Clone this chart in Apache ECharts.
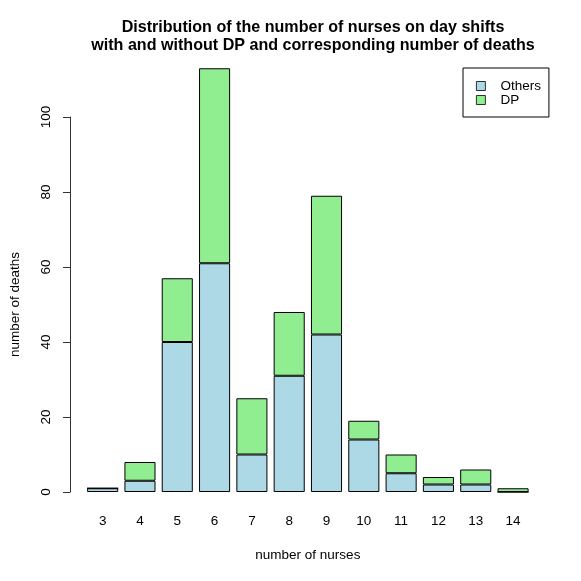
<!DOCTYPE html>
<html>
<head>
<meta charset="utf-8">
<script src="https://cdn.jsdelivr.net/npm/echarts@6/dist/echarts.min.js"></script>
<style>
html, body { margin: 0; padding: 0; background: #fff; }
#chart { width: 581px; height: 581px; }
</style>
</head>
<body>
<div id="chart"></div>
<script>
// number of nurses on day shift
const nurses = ['3', '4', '5', '6', '7', '8', '9', '10', '11', '12', '13', '14'];
// deaths on shifts without DP
const others = [1, 3, 40, 61, 10, 31, 42, 14, 5, 2, 2, 0];
// deaths on shifts with DP
const dp = [0, 5, 17, 52, 15, 17, 37, 5, 5, 2, 4, 1];
const yTicks = [0, 20, 40, 60, 80, 100];

const chart = echarts.init(document.getElementById('chart'));
const font = 'Liberation Sans';
const fs = 13.5;

chart.setOption({
	animation: false,
	backgroundColor: '#fff',
	title: {
		text: 'Distribution of the number of nurses on day shifts\nwith and without DP and corresponding number of deaths',
		left: 308,
		top: 14,
		textAlign: 'center',
		textStyle: {
			fontFamily: font,
			fontSize: 16.1,
			fontWeight: 'bold',
			lineHeight: 17.5,
			color: '#000'
		}
	},
	legend: {
		orient: 'vertical',
		left: 463,
		top: 68,
		padding: [11, 8, 10, 13],
		itemGap: 0,
		itemWidth: 9,
		itemHeight: 9,
		icon: 'rect',
		itemStyle: { borderColor: '#000', borderWidth: 0.8 },
		borderColor: '#000',
		borderWidth: 1,
		borderRadius: 0,
		textStyle: {
			fontFamily: font,
			fontSize: fs,
			color: '#000',
			lineHeight: 14,
			padding: [0, 0, 0, 10]
		},
		data: ['Others', 'DP']
	},
	grid: {
		left: 82.3,
		right: 49.3,
		top: 117,
		bottom: 89,
		containLabel: false
	},
	xAxis: {
		type: 'category',
		data: nurses,
		name: 'number of nurses',
		nameLocation: 'middle',
		nameGap: 56,
		nameTextStyle: { fontFamily: font, fontSize: fs, color: '#000' },
		axisLine: { show: false },
		axisTick: { show: false },
		axisLabel: { fontFamily: font, fontSize: fs, color: '#000', margin: 22 }
	},
	yAxis: {
		type: 'value',
		min: 0,
		max: 100,
		interval: 20,
		offset: 14,
		name: 'number of deaths',
		nameLocation: 'middle',
		nameGap: 48,
		nameTextStyle: { fontFamily: font, fontSize: fs, color: '#000' },
		splitLine: { show: false },
		axisLine: { show: true, lineStyle: { color: '#333', width: 1 } },
		axisTick: { show: true, length: 7, lineStyle: { color: '#333', width: 1 } },
		axisLabel: {
			rotate: 90,
			margin: 17,
			fontFamily: font,
			fontSize: fs,
			color: '#000',
			customValues: yTicks
		}
	},
	series: [
		{
			name: 'Others',
			type: 'bar',
			stack: 'deaths',
			barWidth: '83.3%',
			clip: false,
			data: others,
			itemStyle: { color: '#ADD8E6', borderColor: '#000', borderWidth: 1 }
		},
		{
			name: 'DP',
			type: 'bar',
			stack: 'deaths',
			barWidth: '83.3%',
			clip: false,
			data: dp,
			itemStyle: { color: '#90EE90', borderColor: '#000', borderWidth: 1 }
		}
	]
});
</script>
</body>
</html>
